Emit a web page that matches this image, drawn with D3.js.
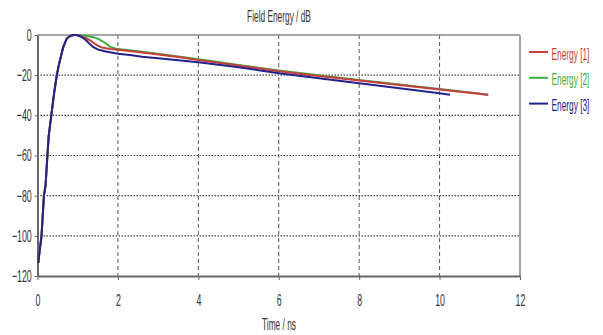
<!DOCTYPE html>
<html>
<head>
<meta charset="utf-8">
<script src="https://cdn.jsdelivr.net/npm/d3@7"></script>
<style>
  body { margin: 0; background: #fff; }
  text { font-family: 'Liberation Sans', Arial, sans-serif; fill: #333; }
</style>
</head>
<body>
<svg id="canvas"></svg>
<script>
const width = 603;
const height = 335;

// time axis (ns) and energies (dB)
const xTicks = [0, 2, 4, 6, 8, 10, 12];
const yTicks = [0, -20, -40, -60, -80, -100, -120];
const seriesNames = ['Energy [1]', 'Energy [2]', 'Energy [3]'];
const seriesColors = ['#c83c3c', '#3cae3c', '#22228a'];

const riseT = [0.02, 0.05, 0.10, 0.13, 0.16, 0.20, 0.24, 0.28, 0.35, 0.42, 0.48, 0.53, 0.58, 0.64, 0.68, 0.73, 0.80, 0.89, 0.97];
const riseDb = [-113.5, -108, -100, -90, -80, -75, -62, -50, -39, -28, -20, -15, -11, -6, -4, -1.7, -0.6, 0, 0];

const energy1T = [1.05, 1.1, 1.2, 1.3, 1.4, 1.5, 1.6, 1.8, 2.0, 2.5, 3, 3.5, 4, 4.5, 5, 5.5, 6, 7, 8, 9, 10, 10.5, 11, 11.21];
const energy1Db = [-0.3, -0.8, -1.5, -2.5, -4, -5.3, -6.2, -7.0, -7.4, -8.5, -9.7, -11.0, -12.4, -13.8, -15.2, -16.6, -18.0, -20.4, -22.6, -24.9, -27.1, -28.2, -29.3, -29.9];

const energy2T = [1.05, 1.1, 1.2, 1.3, 1.4, 1.5, 1.65, 1.8, 1.95, 2.5, 3, 3.5, 4, 4.5, 5, 5.5, 6, 7, 8, 9, 10, 10.5, 11, 11.21];
const energy2Db = [-0.2, -0.3, -0.4, -0.7, -1.2, -1.8, -3.5, -5.8, -6.8, -8.1, -9.3, -10.7, -12.1, -13.5, -14.9, -16.3, -17.7, -20.1, -22.4, -24.7, -26.9, -28.0, -29.2, -29.8];

const energy3T = [1.1, 1.2, 1.3, 1.4, 1.5, 1.7, 2.0, 2.3, 2.6, 3, 3.5, 4, 4.5, 5, 5.5, 6, 6.5, 7, 7.5, 8, 8.5, 9, 9.5, 10, 10.26];
const energy3Db = [-1, -2.5, -4.5, -6.2, -7.2, -8.2, -9.3, -10.0, -10.8, -11.6, -12.6, -13.6, -14.8, -16.1, -17.5, -19.0, -20.3, -21.5, -22.8, -24.0, -25.3, -26.5, -27.8, -29.0, -29.8];

const svg = d3.select('#canvas').attr('width', width).attr('height', height);

const x = d3.scaleLinear().domain([0, 12]).range([37.5, 520]);
const y = d3.scaleLinear().domain([-120, 0]).range([276, 35]);

const sx = 0.52;

// grid
svg.append('g')
  .selectAll('line')
  .data(yTicks.filter((d) => d !== 0 && d !== -120))
  .enter()
  .append('line')
  .attr('x1', x(0)).attr('x2', x(12))
  .attr('y1', (d) => y(d)).attr('y2', (d) => y(d))
  .attr('stroke', '#444').attr('stroke-width', 1.2)
  .attr('stroke-dasharray', '1.5,1.5');

svg.append('g')
  .selectAll('line')
  .data(xTicks.filter((d) => d !== 0 && d !== 12))
  .enter()
  .append('line')
  .attr('x1', (d) => x(d)).attr('x2', (d) => x(d))
  .attr('y1', y(0)).attr('y2', y(-120))
  .attr('stroke', '#555').attr('stroke-width', 1)
  .attr('stroke-dasharray', '4,3');

// frame
svg.append('line')
  .attr('x1', x(0)).attr('x2', x(12)).attr('y1', y(0)).attr('y2', y(0))
  .attr('stroke', '#888').attr('stroke-width', 1.5);
svg.append('line')
  .attr('x1', x(12)).attr('x2', x(12)).attr('y1', y(0)).attr('y2', y(-120))
  .attr('stroke', '#888').attr('stroke-width', 1.5);

// axes
const xAxis = svg.append('g')
  .attr('transform', `translate(0, ${y(-120)})`)
  .call(d3.axisBottom(x).tickValues(xTicks).tickSize(4).tickSizeOuter(0).tickPadding(14));
xAxis.select('.domain').attr('stroke', '#666').attr('stroke-width', 2);
xAxis.selectAll('.tick line').attr('stroke', '#666');
xAxis.selectAll('text')
  .attr('font-size', 17)
  .attr('font-family', "'Liberation Sans', Arial, sans-serif")
  .attr('fill', '#333')
  .attr('transform', `scale(${sx},1)`);

const yAxis = svg.append('g')
  .attr('transform', `translate(${x(0)}, 0)`)
  .call(d3.axisLeft(y).tickValues(yTicks).tickSize(3).tickSizeOuter(0).tickPadding(8));
yAxis.select('.domain').attr('stroke', '#666').attr('stroke-width', 2);
yAxis.selectAll('.tick line').attr('stroke', '#666');
yAxis.selectAll('text')
  .attr('font-size', 17)
  .attr('font-family', "'Liberation Sans', Arial, sans-serif")
  .attr('fill', '#333')
  .attr('transform', `scale(${sx},1)`);

// titles
const label = (tx, ty, txt, anchor, color) => {
  svg.append('text')
    .attr('transform', `translate(${tx}, ${ty}) scale(${sx},1)`)
    .attr('text-anchor', anchor)
    .attr('font-size', 16)
    .style('fill', color || '#333')
    .text(txt);
};
label(279, 22, 'Field Energy / dB', 'middle');
label(279, 330, 'Time / ns', 'middle');

// curves
const line = d3.line().x((d) => x(d[0])).y((d) => y(d[1]));
const build = (ts, dbs) => riseT.map((t, i) => [t, riseDb[i]]).concat(ts.map((t, i) => [t, dbs[i]]));
const curves = [build(energy1T, energy1Db), build(energy2T, energy2Db), build(energy3T, energy3Db)];

[1, 0, 2].forEach((k) => {
  svg.append('path')
    .datum(curves[k])
    .attr('d', line)
    .attr('fill', 'none')
    .attr('stroke', seriesColors[k])
    .attr('stroke-width', 2)
    .attr('stroke-linejoin', 'round');
});

// legend
seriesNames.forEach((name, i) => {
  const ly = 52 + i * 25.8;
  svg.append('line')
    .attr('x1', 529).attr('x2', 548).attr('y1', ly).attr('y2', ly)
    .attr('stroke', seriesColors[i]).attr('stroke-width', 2);
  label(551.5, ly + 7.5, name, 'start', seriesColors[i]);
});
</script>
</body>
</html>
